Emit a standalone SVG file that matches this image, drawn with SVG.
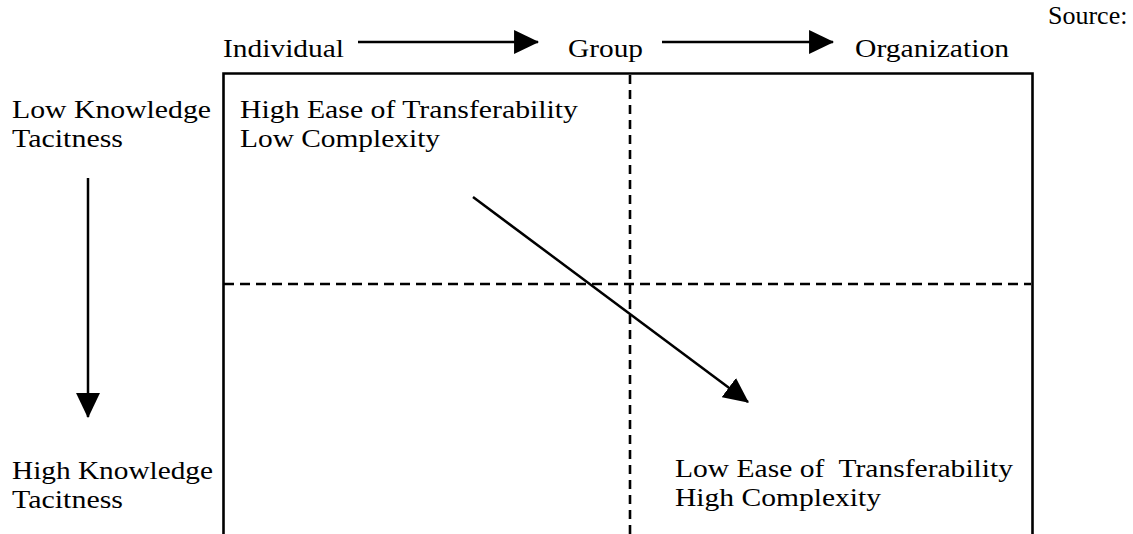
<svg xmlns="http://www.w3.org/2000/svg" width="1133" height="534" viewBox="0 0 1133 534">
  <style>
    text { font-family: "Liberation Serif", "Times New Roman", serif; font-size: 26px; fill: #000; }
    .frame { stroke: #000; stroke-width: 2.6; fill: none; }
    .dash-h { stroke: #000; stroke-width: 2.7; stroke-dasharray: 10 6; fill: none; }
    .dash-v { stroke: #000; stroke-width: 2.6; stroke-dasharray: 9 6; fill: none; }
    .conn { stroke: #000; stroke-width: 2.5; fill: none; marker-end: url(#head); }
  </style>
  <defs>
    <marker id="head" markerUnits="userSpaceOnUse" markerWidth="25" markerHeight="24" viewBox="0 0 23 22" refX="22" refY="11" orient="auto">
      <path d="M0,0 L23,11 L0,22 Z" fill="#000"/>
    </marker>
  </defs>
  <rect width="1133" height="534" fill="#fff"/>

  <!-- source note -->
  <g id="source">
    <text x="1048" y="24">Source:</text>
  </g>

  <!-- horizontal scale labels -->
  <g id="individual"><text x="223" y="57" textLength="121" lengthAdjust="spacingAndGlyphs">Individual</text></g>
  <g id="group"><text x="568" y="57" textLength="75" lengthAdjust="spacingAndGlyphs">Group</text></g>
  <g id="organization"><text x="855" y="57" textLength="154" lengthAdjust="spacingAndGlyphs">Organization</text></g>

  <!-- vertical scale labels -->
  <g id="low-tacitness">
    <text x="12" y="118" textLength="199" lengthAdjust="spacingAndGlyphs">Low Knowledge</text>
    <text x="12" y="147" textLength="111" lengthAdjust="spacingAndGlyphs">Tacitness</text>
  </g>
  <g id="high-tacitness">
    <text x="12" y="479" textLength="201" lengthAdjust="spacingAndGlyphs">High Knowledge</text>
    <text x="12" y="508" textLength="111" lengthAdjust="spacingAndGlyphs">Tacitness</text>
  </g>

  <!-- matrix frame and quadrant dividers -->
  <g id="matrix">
    <path class="frame" d="M223.5,534 V73.5 H1032.5 V534"/>
    <line class="dash-h" x1="224" y1="284" x2="1031" y2="284"/>
    <line class="dash-v" x1="630" y1="75" x2="630" y2="534"/>
  </g>

  <!-- quadrant labels -->
  <g id="top-left-quadrant">
    <text x="240" y="118" textLength="338" lengthAdjust="spacingAndGlyphs">High Ease of Transferability</text>
    <text x="240" y="147" textLength="200" lengthAdjust="spacingAndGlyphs">Low Complexity</text>
  </g>
  <g id="bottom-right-quadrant">
    <text x="675" y="477" textLength="338" lengthAdjust="spacingAndGlyphs" xml:space="preserve">Low Ease of  Transferability</text>
    <text x="675" y="506" textLength="206" lengthAdjust="spacingAndGlyphs">High Complexity</text>
  </g>

  <!-- arrows -->
  <g id="connectors">
    <line class="conn" x1="358" y1="42" x2="538" y2="42"/>
    <line class="conn" x1="662" y1="42" x2="833" y2="42"/>
    <line class="conn" x1="88" y1="178" x2="88" y2="417"/>
    <line class="conn" x1="473" y1="197" x2="748" y2="402"/>
  </g>
</svg>
